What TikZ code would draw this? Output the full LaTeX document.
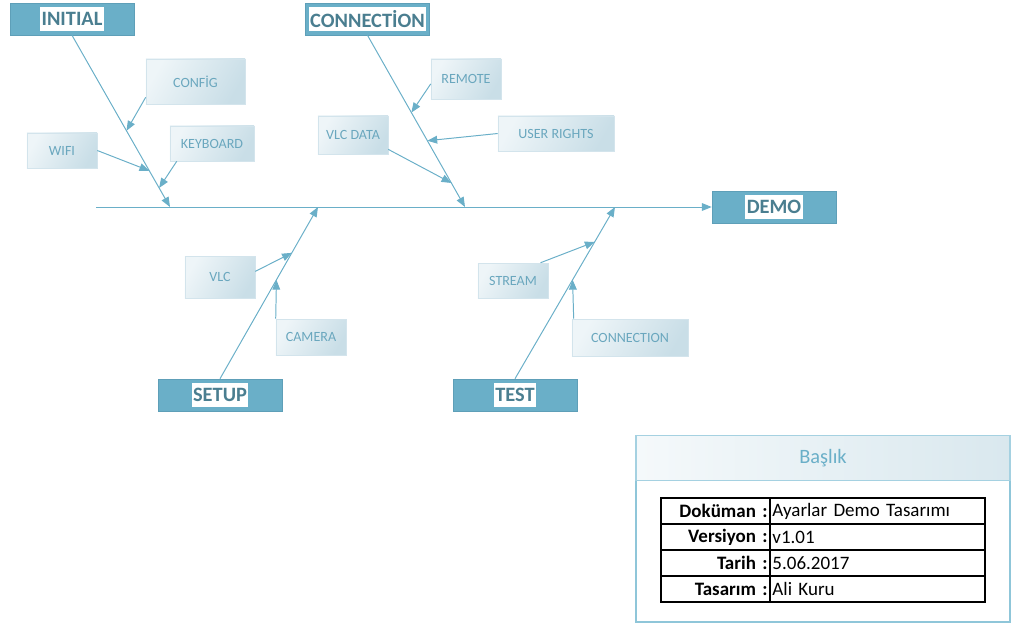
\documentclass[tikz,border=0pt]{standalone}
\usepackage{fontspec}
\setmainfont{Carlito}
\usepackage{tikz}
\usetikzlibrary{arrows.meta,calc}
\definecolor{fishblue}{HTML}{6AAFC8}
\definecolor{fishdark}{HTML}{5E9FB8}
\definecolor{fishtext}{HTML}{4A7E90}
\definecolor{causetext}{HTML}{6AA7BE}
\definecolor{causeline}{HTML}{D3E4EC}
\definecolor{causelight}{HTML}{EEF5F8}
\definecolor{causedark}{HTML}{C9DEE7}
\definecolor{titleline}{HTML}{8FC6D9}
\tikzstyle{head}=[draw=fishdark,fill=fishblue,minimum width=3.1cm,minimum height=0.8cm,inner sep=0pt]
\tikzstyle{headtxt}=[fill=white,text=fishtext,font=\fontsize{14.5}{16}\selectfont\bfseries,inner xsep=1pt,inner ysep=0pt,minimum height=17pt]
\tikzstyle{cause}=[draw=causeline,left color=causelight,right color=causedark,shading angle=60,text=causetext,font=\fontsize{10}{12}\selectfont,inner sep=0pt,minimum width=1.75cm,minimum height=0.9cm]
\tikzstyle{bone}=[draw=fishblue,line width=0.7pt,-{Triangle[length=7pt,width=5.5pt]}]
\tikzstyle{lcell}=[draw,line width=0.8pt,text width=2.6cm,align=right,inner xsep=0.0625cm,inner ysep=0pt,minimum height=0.65cm,font=\fontsize{13.5}{15}\selectfont\bfseries]
\tikzstyle{rcell}=[draw,line width=0.8pt,text width=5.25cm,align=left,inner xsep=0.0625cm,inner ysep=0pt,minimum height=0.65cm,font=\fontsize{13.5}{15}\selectfont]

\begin{document}
\begin{tikzpicture}[x=0.025cm,y=-0.025cm]
\useasboundingbox (0,0) rectangle (1013,626);

% heads and effect
\node [head, label={[headtxt]center:INITIAL}] (initial) at (72,19) {};
\node [head, label={[headtxt]center:CONNECTİON}] (connection) at (367.5,19) {};
\node [head, label={[headtxt]center:SETUP}] (setup) at (220,395) {};
\node [head, label={[headtxt]center:TEST}] (test) at (515,395) {};
\node [head, label={[headtxt]center:DEMO}] (demo) at (774,207) {};

% spine
\coordinate (spine) at (96,207);
\coordinate (s1) at (170,207);
\coordinate (s2) at (465,207);
\coordinate (s3) at (318,207);
\coordinate (s4) at (615,207);
\draw [bone] (spine) -- (demo.west);
\draw [bone] (initial.south) -- (s1);
\draw [bone] (connection.south) -- (s2);
\draw [bone] (setup.north) -- (s3);
\draw [bone] (test.north) -- (s4);

% causes
\node [cause, minimum width=2.475cm, minimum height=1.125cm] (config) at (195.5,81.5) {CONFİG};
\node [cause, minimum height=0.875cm] (wifi) at (62,150.5) {WIFI};
\node [cause, minimum width=2.1cm, minimum height=0.875cm] (keyboard) at (212,143.5) {KEYBOARD};
\node [cause, minimum height=1cm] (remote) at (466,79) {REMOTE};
\node [cause, minimum height=0.95cm] (vlcdata) at (353,135) {VLC DATA};
\node [cause, minimum width=2.9cm, minimum height=0.875cm] (userrights) at (556,133.5) {USER RIGHTS};
\node [cause, minimum height=1.05cm] (vlc) at (220,277) {VLC};
\node [cause] (camera) at (311,337) {CAMERA};
\node [cause, minimum height=0.875cm] (stream) at (513,280.5) {STREAM};
\node [cause, minimum width=2.9cm, minimum height=0.925cm] (conn2) at (630,337.5) {CONNECTION};

\draw [bone] ([yshift=5pt]config.south west) -- ($(initial.south)!0.556!(s1)$);
\draw [bone] (wifi.east) -- ($(initial.south)!0.789!(s1)$);
\draw [bone] ([xshift=5pt]keyboard.south west) -- ($(initial.south)!0.889!(s1)$);
\draw [bone] ([yshift=-3.5pt]remote.west) -- ($(connection.south)!0.45!(s2)$);
\draw [bone] (userrights.west) -- ($(connection.south)!0.614!(s2)$);
\draw [bone] ([yshift=3.5pt]vlcdata.south east) -- ($(connection.south)!0.86!(s2)$);
\draw [bone] ([yshift=4pt]vlc.east) -- ($(setup.north)!0.733!(s3)$);
\draw [bone] (camera.north west) -- ($(setup.north)!0.576!(s3)$);
\draw [bone] ([xshift=-5.5pt]stream.north east) -- ($(test.north)!0.797!(s4)$);
\draw [bone] ([xshift=1.4pt]conn2.north west) -- ($(test.north)!0.576!(s4)$);

% title block
\node [draw=titleline, line width=1.4pt, minimum width=9.35cm, minimum height=4.65cm] (tblock) at (823,529) {};
\node [draw=titleline!80, line width=0.8pt, left color=causelight!60, right color=causedark!70, anchor=north, minimum width=9.35cm, minimum height=1.125cm, text=fishblue, font=\fontsize{14.5}{16}\selectfont] (thead) at (tblock.north) {Başlık};
\foreach \k/\v [count=\i] in {Doküman/Ayarlar Demo Tasarımı, Versiyon/v1.01, Tarih/5.06.2017, Tasarım/Ali Kuru}
{
  \node [lcell] (k\i) at (715.5,485+26*\i) {\k\ :};
  \node [rcell] (v\i) at (877.5,485+26*\i) {\v};
}
\end{tikzpicture}
\end{document}
